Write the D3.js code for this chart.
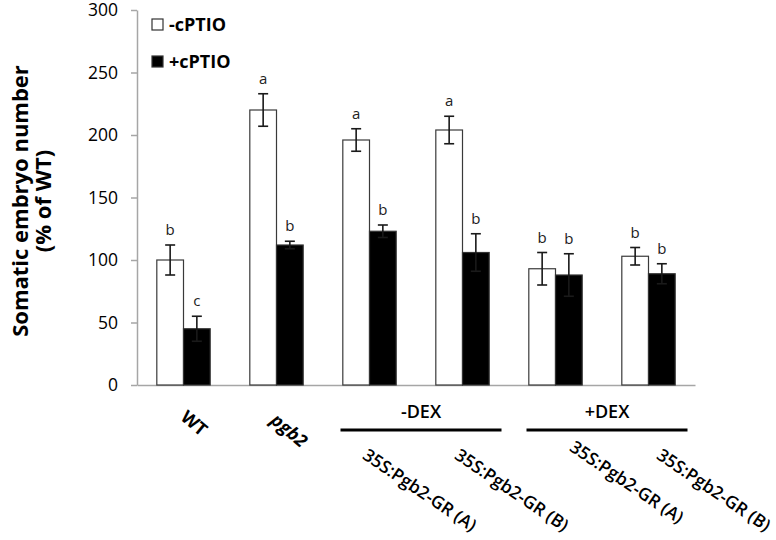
<!DOCTYPE html>
<html>
<head>
  <meta charset="UTF-8">
  <title>Somatic embryo number</title>
  <style>
    body { margin: 0; background: #fff; }
    svg { display: block; }
    svg text { font-family: "Open Sans", sans-serif; }
    .axis path, .axis line { stroke: #a6a6a6; stroke-width: 1.5; }
    .axis text { fill: #000; font-family: "Open Sans", sans-serif; }
  </style>
</head>
<body>
  <svg></svg>
  <script src="https://d3js.org/d3.v7.min.js"></script>
  <script>
    // values (% of WT)
    const categories = ["WT", "pgb2", "35S:Pgb2-GR (A)", "35S:Pgb2-GR (B)", "35S:Pgb2-GR (A)", "35S:Pgb2-GR (B)"];
    const minusValues = [100, 220, 196, 204, 93, 103];
    const minusErr = [12, 13, 9, 11, 13, 7];
    const plusValues = [45, 112, 123, 106, 88, 89];
    const plusErr = [10, 3, 5, 15, 17, 8];
    const minusLetters = ["b", "a", "a", "a", "b", "b"];
    const plusLetters = ["c", "b", "b", "b", "b", "b"];
    const yTicks = [0, 50, 100, 150, 200, 250, 300];
    const groupLabels = ["-DEX", "+DEX"];
    const groupSpans = [[2, 3], [4, 5]];
    const seriesNames = ["-cPTIO", "+cPTIO"];

    let width = 776, height = 540;
    let svg = d3.select("svg").attr("width", width).attr("height", height);

    let y = d3.scaleLinear().domain([0, 300]).range([385, 10]);
    let x = d3.scaleBand().domain(d3.range(categories.length)).range([137, 695]).padding(0);
    let barW = x.bandwidth() * 0.287;
    let cx = i => x(i) + x.bandwidth() / 2;

    // y axis
    svg.append("g")
      .attr("class", "axis")
      .attr("transform", "translate(137,0)")
      .call(d3.axisLeft(y).tickValues(yTicks).tickSize(6).tickSizeOuter(0).tickPadding(13))
      .selectAll("text")
      .style("font-size", "17.5px");

    // x axis, labels placed by hand like the original
    let labelShift = [[-4, 34], [-7, 37], [-8, 73], [-9, 73], [13, 65], [7, 73]];
    let xAxis = svg.append("g")
      .attr("class", "axis")
      .attr("transform", "translate(0,385)")
      .call(d3.axisBottom(x).tickSize(0).tickSizeOuter(0).tickFormat(i => categories[i]));
    xAxis.selectAll("text")
      .attr("y", 0).attr("dy", 0)
      .attr("text-anchor", "start")
      .attr("transform", i => `translate(${labelShift[i][0]},${labelShift[i][1]}) rotate(${i < 2 ? 40 : 34})`)
      .style("font-size", i => i < 2 ? "18px" : "17.5px")
      .style("font-weight", i => i < 2 ? "bold" : "600")
      .style("font-style", i => i == 1 ? "italic" : "normal");

    // bars
    let plot = svg.append("g");
    plot.selectAll(".minus").data(minusValues).enter().append("rect")
      .attr("x", (d, i) => cx(i) - barW)
      .attr("y", d => y(d))
      .attr("width", barW)
      .attr("height", d => y(0) - y(d))
      .attr("fill", "#fff")
      .attr("stroke", "#3a3a3a")
      .attr("stroke-width", 1.2);
    plot.selectAll(".plus").data(plusValues).enter().append("rect")
      .attr("x", (d, i) => cx(i))
      .attr("y", d => y(d))
      .attr("width", barW)
      .attr("height", d => y(0) - y(d))
      .attr("fill", "#000")
      .attr("stroke", "#333")
      .attr("stroke-width", 1.2);

    // error bars + letters
    function errors(vals, errs, letters, off) {
      vals.forEach((v, i) => {
        let bx = cx(i) + off;
        let top = y(v + errs[i]), bot = y(v - errs[i]);
        let g = plot.append("g").attr("stroke", "#1a1a1a").attr("stroke-width", 1.6);
        g.append("line").attr("x1", bx).attr("x2", bx).attr("y1", top).attr("y2", bot);
        g.append("line").attr("x1", bx - 5).attr("x2", bx + 5).attr("y1", top).attr("y2", top);
        g.append("line").attr("x1", bx - 5).attr("x2", bx + 5).attr("y1", bot).attr("y2", bot);
        plot.append("text")
          .attr("x", bx).attr("y", top - 10)
          .attr("text-anchor", "middle")
          .style("font-size", "15px")
          .attr("fill", "#222")
          .text(letters[i]);
      });
    }
    errors(minusValues, minusErr, minusLetters, -barW / 2);
    errors(plusValues, plusErr, plusLetters, barW / 2);

    // -DEX / +DEX brackets
    groupLabels.forEach((lab, k) => {
      let x1 = cx(groupSpans[k][0]) - 29, x2 = cx(groupSpans[k][1]) + 39;
      svg.append("line")
        .attr("x1", x1).attr("x2", x2)
        .attr("y1", 430).attr("y2", 430)
        .attr("stroke", "#000").attr("stroke-width", 3);
      svg.append("text")
        .attr("x", (x1 + x2) / 2).attr("y", 418)
        .attr("text-anchor", "middle")
        .style("font-size", "18px")
        .style("font-weight", "600")
        .text(lab);
    });

    // y title
    let yt = svg.append("text")
      .attr("transform", "translate(28,201) rotate(-90)")
      .attr("text-anchor", "middle")
      .style("font-size", "22px")
      .style("font-weight", "bold");
    yt.append("tspan").attr("x", 0).attr("y", 0).text("Somatic embryo number");
    yt.append("tspan").attr("x", 0).attr("y", 23).text("(% of WT)");

    // legend
    let legend = svg.append("g").attr("transform", "translate(152,19)");
    seriesNames.forEach((s, k) => {
      legend.append("rect")
        .attr("x", 0).attr("y", k * 37)
        .attr("width", 11).attr("height", 11)
        .attr("fill", k == 0 ? "#fff" : "#000")
        .attr("stroke", "#333").attr("stroke-width", 1.2);
      legend.append("text")
        .attr("x", 17).attr("y", k * 37 + 12)
        .style("font-size", "18px")
        .style("font-weight", "bold")
        .text(s);
    });
  </script>
</body>
</html>
